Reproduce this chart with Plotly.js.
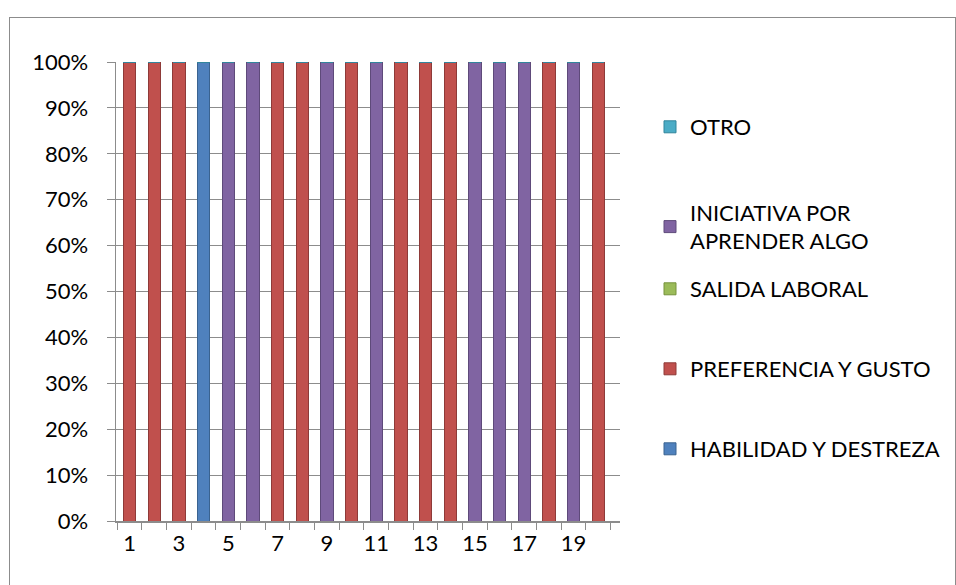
<!DOCTYPE html>
<html>
<head>
<meta charset="utf-8">
<script src="https://cdn.plot.ly/plotly-3.0.1.min.js"></script>
<style>
html,body{margin:0;padding:0;background:#fff;}
#chart{width:956px;height:585px;position:absolute;left:0;top:0;}
#frame{position:absolute;left:9px;top:17px;width:945px;height:580px;border:1px solid #8c8c8c;pointer-events:none;}
</style>
</head>
<body>
<div id="chart"></div>
<div id="frame"></div>
<script>
const categories = [1,2,3,4,5,6,7,8,9,10,11,12,13,14,15,16,17,18,19,20];
const habilidad   = [0,0,0,1,0,0,0,0,0,0,0,0,0,0,0,0,0,0,0,0];
const preferencia = [1,1,1,0,0,0,1,1,0,1,0,1,1,1,0,0,0,1,0,1];
const salida      = [0,0,0,0,0,0,0,0,0,0,0,0,0,0,0,0,0,0,0,0];
const iniciativa  = [0,0,0,0,1,1,0,0,1,0,1,0,0,0,1,1,1,0,1,0];
const otro        = [0,0,0,0,0,0,0,0,0,0,0,0,0,0,0,0,0,0,0,0];
const seriesNames = ['HABILIDAD Y DESTREZA','PREFERENCIA Y GUSTO','SALIDA LABORAL','INICIATIVA POR<br>APRENDER ALGO','OTRO'];
const seriesColors = ['#4F81BD','#C0504D','#9BBB59','#8064A2','#4BACC6'];
const seriesEdge = ['#3A6390','#8E3A38','#76923C','#5E4A7A','#31859C'];
const seriesData = [habilidad, preferencia, salida, iniciativa, otro];
const legendIds = ['legend5','legend4','legend3','legend2','legend'];
const legendY = [449, 369, 289, 227, 127];

const traces = seriesData.map((vals, i) => ({
  type: 'bar',
  x: categories,
  y: vals,
  name: seriesNames[i],
  legend: legendIds[i],
  marker: {color: seriesColors[i], line: {color: seriesEdge[i], width: 1}},
  width: 0.5,
  hoverinfo: 'x+y+name'
}));

const font = {family: 'Lato, "Open Sans", sans-serif', size: 22, color: '#000'};
const layout = {
  width: 956, height: 585,
  margin: {l: 116, r: 336, t: 62, b: 64},
  paper_bgcolor: '#fff', plot_bgcolor: '#fff',
  barmode: 'stack',
  font: font,
  showlegend: true,
  xaxis: {
    range: [0.45, 20.88],
    tick0: 1, dtick: 2, tickmode: 'linear',
    ticks: 'outside', ticklen: 2, tickcolor: 'rgba(0,0,0,0)',
    minor: {tick0: 0.5, dtick: 1, ticks: 'outside', ticklen: 7, tickcolor: '#8c8c8c', showgrid: false},
    showline: true, linecolor: '#8c8c8c', linewidth: 1.5,
    showgrid: false, zeroline: false,
    tickfont: font, fixedrange: true
  },
  yaxis: {
    range: [0, 1],
    tickvals: [0,0.1,0.2,0.3,0.4,0.5,0.6,0.7,0.8,0.9,1],
    tickformat: '.0%',
    ticks: 'outside', ticklen: 8, tickcolor: '#8c8c8c',
    ticklabelstandoff: 14,
    showline: true, linecolor: '#8c8c8c', linewidth: 1.5,
    showgrid: true, gridcolor: '#8c8c8c', gridwidth: 1,
    zeroline: false, tickfont: font, fixedrange: true
  }
};
legendIds.forEach((id, i) => {
  layout[id] = {
    xref: 'container', yref: 'container',
    x: 650/956, y: 1 - legendY[i]/585,
    xanchor: 'left', yanchor: 'middle',
    font: font, bgcolor: 'rgba(0,0,0,0)',
    itemwidth: 30, itemclick: false, itemdoubleclick: false
  };
});

Plotly.newPlot('chart', traces, layout, {displayModeBar: false, staticPlot: true});
</script>
</body>
</html>
